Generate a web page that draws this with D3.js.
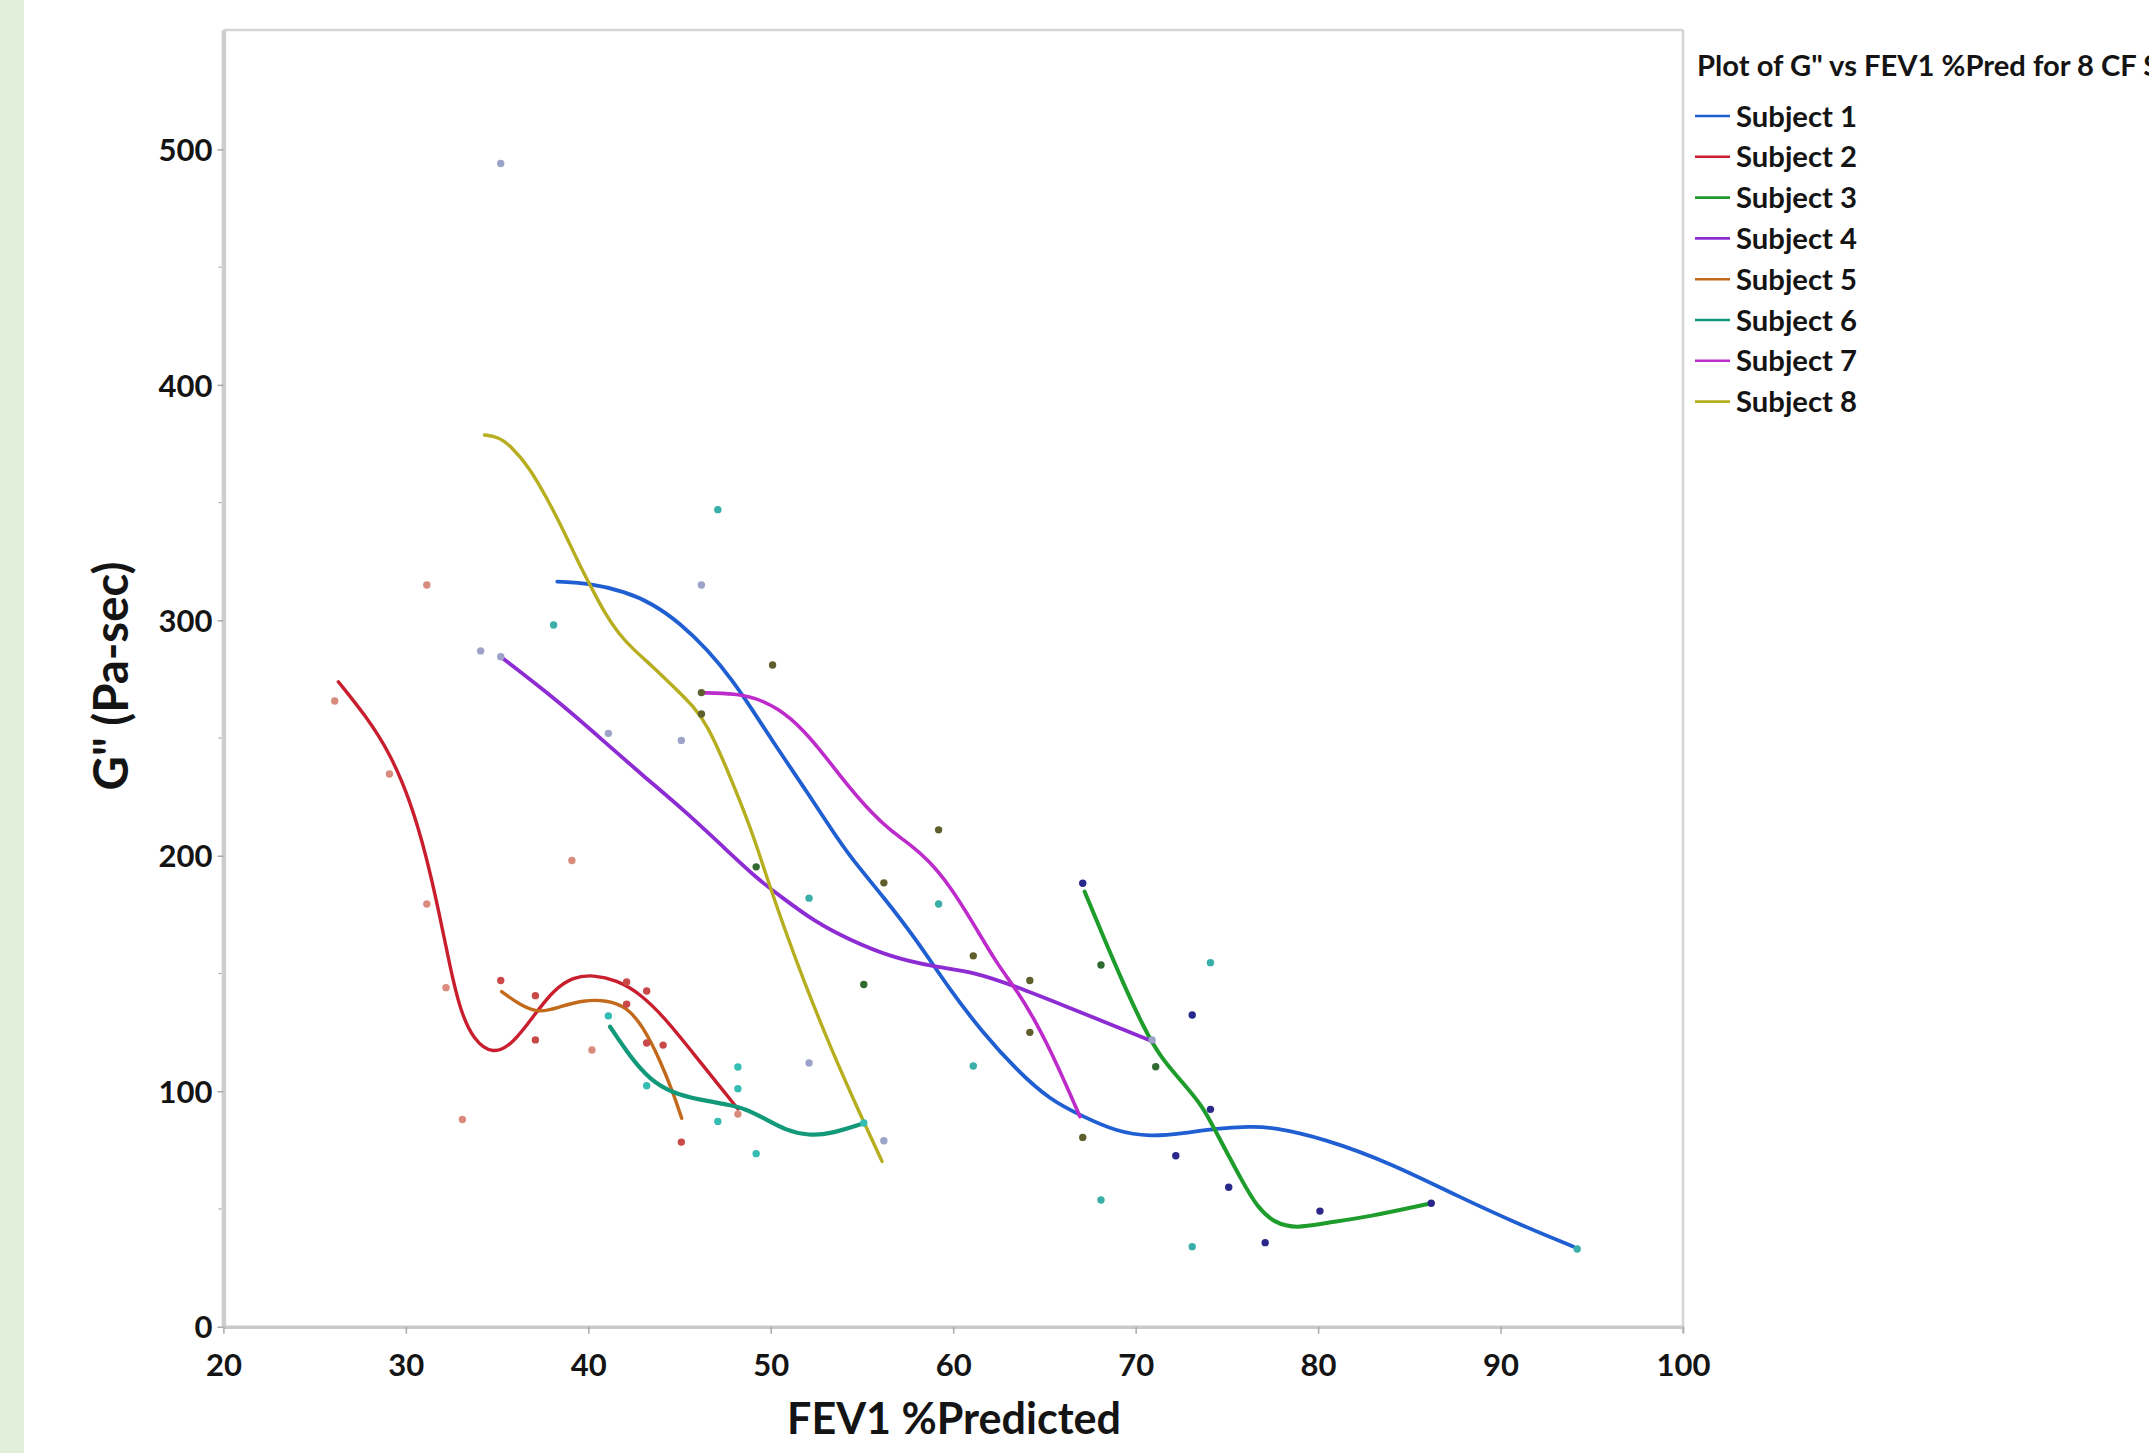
<!DOCTYPE html>
<html><head><meta charset="utf-8">
<script src="https://cdn.jsdelivr.net/npm/d3@7"></script>
<style>html,body{margin:0;padding:0;background:#fff;overflow:hidden}svg{display:block}</style>
</head><body><svg id="c" width="2149" height="1453"></svg>
<script>
// ---------------- DATA ----------------
const subjects = ["Subject 1","Subject 2","Subject 3","Subject 4","Subject 5","Subject 6","Subject 7","Subject 8"];
const xTicks = [20,30,40,50,60,70,80,90,100];
const yTicks = [0,100,200,300,400,500];
const yMinorTicks = [50,150,250,350,450];

// smoothing-spline curves: [FEV1 %Pred, G'']
const s1Curve = [[38.3,316.4],[40.1,315.7],[42.0,312.2],[43.5,307.2],[45.05,298.7],[46.55,287.4],[47.9,274.6],[49.0,261.9],[50.3,246.3],[51.8,229.3],[53.35,210.9],[54.34,199.6],[56.17,182.6],[58.0,164.2],[59.82,143],[61.65,124.6],[63.48,109],[65.3,96.3],[67.13,89.2],[68.96,82.8],[70.79,80.7],[72.6,82.1],[74.44,84.3],[76.27,85],[77.5,84.8],[80.3,80],[84.0,69.4],[87.7,55.2],[91.3,42.5],[94.0,34]];
const s2Curve = [[26.3,273.9],[27.85,259],[29.13,243.5],[30.23,223.7],[31.14,199.6],[31.87,174.1],[32.42,152.9],[32.97,134.5],[33.7,121.8],[34.79,115.4],[35.89,120.4],[36.98,131.7],[38.08,143],[39.18,148.6],[40.27,149.4],[41.55,147.2],[42.83,141.6],[44.3,130.3],[45.75,116.1],[47.22,101.9],[48.2,92.5]];
const s3Curve = [[67.2,184.8],[68.23,165.6],[69.32,145.8],[70.42,127.4],[71.33,114.7],[72.61,103.4],[73.7,93.4],[74.44,82.1],[75.9,60.9],[76.65,51],[77.6,43.9],[78.86,41.8],[80.3,43.9],[82.8,46.7],[86.2,52.4]];
const s4Curve = [[35.2,284.5],[38.3,266],[40.8,249],[43.0,234],[45.3,219],[47.5,203],[49.3,190],[50.5,183],[52.4,172],[54.34,164.2],[56.53,157.1],[58.91,152.9],[61.1,150.8],[63.48,144.4],[66.22,135.9],[68.96,127.4],[70.97,121]];
const s5Curve = [[35.25,142.3],[36.26,136.6],[37.35,133.1],[38.45,135.9],[39.73,138.7],[41.0,138.7],[42.1,135.9],[43.01,127.4],[43.93,113.3],[44.66,99.1],[45.12,88.5]];
const s6Curve = [[41.19,127.4],[42.29,114.7],[43.38,104.8],[44.66,99.1],[46.12,96.3],[47.77,94.2],[48.6,92.5],[49.6,88.7],[50.8,83.4],[52.1,81.1],[53.3,81.9],[55.1,86.4]];
const s7Curve = [[46.18,269.2],[48.07,269],[49.57,266.2],[51.09,259.1],[52.6,246.3],[54.1,230.8],[55.6,217.5],[56.6,210.5],[57.6,205],[58.6,198.5],[59.8,187.5],[61.1,171.3],[62.38,154.3],[63.48,143],[64.58,128.9],[65.67,111.9],[66.95,89.2]];
const s8Curve = [[34.31,378.7],[35.05,378],[35.8,373.7],[36.74,365.2],[37.69,352.5],[38.63,338.4],[39.39,325.6],[40.14,314.3],[40.9,303],[41.65,294.5],[42.4,288.1],[43.54,280.3],[44.67,271.8],[45.8,263.3],[46.55,254.8],[47.31,242.1],[48.07,227.9],[49.01,209.5],[49.95,186.9],[50.9,166],[51.76,147.8],[53.33,117.5],[54.9,90.2],[56.1,70.2]];

// observed points
const s1Points = [[38.1,298],[47.1,347],[52.1,182],[59.2,179.5],[61.1,110.7],[68.1,53.8],[73.1,34],[74.1,154.6],[94.2,33]];
const s2Points = [[26.1,265.7],[29.1,234.7],[31.15,315],[31.15,179.5],[32.2,144],[33.1,88],[39.1,198],[40.2,117.5],[48.2,90.3]];
const s3Points = [[67.1,188.3],[72.2,72.6],[73.1,132.4],[74.1,92.3],[75.1,59.2],[77.1,35.7],[80.1,49.1],[86.2,52.4]];
const s4Points = [[34.1,287],[35.2,494],[35.2,284.5],[41.1,252],[45.1,249],[46.2,315],[52.1,112],[56.2,79],[70.9,121.8]];
const s5Points = [[35.2,147],[37.1,140.6],[37.1,121.8],[42.1,146.4],[42.1,137],[43.2,142.6],[43.2,120.5],[44.1,119.6],[45.1,78.4]];
const s6Points = [[41.1,132],[43.2,102.3],[47.1,87.2],[48.2,110.3],[48.2,101.1],[49.2,73.5],[55.1,86.5]];
const s7Points = [[46.2,269.3],[46.2,260.2],[50.1,281],[56.2,188.5],[59.2,211],[61.1,157.5],[64.2,147],[64.2,125],[67.1,80.4]];
const s8Points = [[49.2,195.3],[55.1,145.3],[68.1,153.6],[71.1,110.4]];

const curves = [s1Curve,s2Curve,s3Curve,s4Curve,s5Curve,s6Curve,s7Curve,s8Curve];
const points = [s1Points,s2Points,s3Points,s4Points,s5Points,s6Points,s7Points,s8Points];

// ---------------- STYLE ----------------
const lineColors = ["#1f5fd2","#c81e2e","#1f9d2c","#8e2cd4","#c2691c","#12997a","#bd2bca","#b6ad1f"];
const lineWidths = [3.8,3.4,4.0,3.8,3.4,4.2,3.6,3.4];
const pointColors = ["#3aaea8","#d98c7e","#29288a","#9ca2c8","#c94848","#35bdb3","#5e5f2c","#2f6a31"];
const FONT = "Lato, 'Open Sans', sans-serif";

const W = 2149, H = 1453;
const svg = d3.select("#c");
svg.append("rect").attr("width",W).attr("height",H).attr("fill","#fff");
svg.append("rect").attr("x",0).attr("y",0).attr("width",24).attr("height",H).attr("fill","#e2efda");

const x = d3.scaleLinear().domain([20,100]).range([223.4,1683]);
const y = d3.scaleLinear().domain([0,550.7]).range([1326.7,30]);

function fitWidth(sel, target){
  const w = sel.node().getComputedTextLength();
  const fs = parseFloat(sel.attr("font-size"));
  sel.attr("font-size", fs*target/w);
}

// frame top/right
svg.append("line").attr("x1",x(20)).attr("x2",x(100)).attr("y1",y(550.7)).attr("y2",y(550.7))
  .attr("stroke","#d4d4d4").attr("stroke-width",2.5);
svg.append("line").attr("x1",x(100)).attr("x2",x(100)).attr("y1",y(550.7)).attr("y2",y(0)+6)
  .attr("stroke","#d4d4d4").attr("stroke-width",2.5);

// y axis
const gy = svg.append("g").attr("transform",`translate(${x(20)},0)`)
  .call(d3.axisLeft(y).tickValues(yTicks).tickSize(6).tickSizeOuter(0).tickPadding(5));
gy.select(".domain").attr("stroke","#cdcdcd").attr("stroke-width",4.5);
gy.selectAll(".tick line").attr("stroke","#aaaaaa").attr("stroke-width",1.5);
gy.selectAll(".tick text").attr("font-family",FONT).attr("font-weight",700).attr("font-size",31).attr("fill","#141414").attr("dy","0.36em");
gy.selectAll(".minor").data(yMinorTicks).join("line").attr("class","minor")
  .attr("x1",-5).attr("x2",-2).attr("y1",d=>y(d)).attr("y2",d=>y(d)).attr("stroke","#aaaaaa").attr("stroke-width",1.2);

// x axis
const gx = svg.append("g").attr("transform",`translate(0,${y(0)})`)
  .call(d3.axisBottom(x).tickValues(xTicks).tickSize(7).tickSizeOuter(0));
gx.select(".domain").attr("stroke","#c9c9c9").attr("stroke-width",3.5);
gx.selectAll(".tick line").attr("stroke","#aaaaaa").attr("stroke-width",1.5);
gx.selectAll(".tick text").attr("font-family",FONT).attr("font-weight",700).attr("font-size",31).attr("fill","#141414")
  .attr("y",38).attr("dy","0.36em");

// axis titles
const xt = svg.append("text").attr("x",954).attr("y",1418).attr("dy","0.36em").attr("text-anchor","middle")
  .attr("font-family",FONT).attr("font-weight",700).attr("font-size",40).attr("fill","#141414").text("FEV1 %Predicted");
fitWidth(xt, 334);
const yt = svg.append("text").attr("transform","translate(111,676) rotate(-90)").attr("dy","0.36em").attr("text-anchor","middle")
  .attr("font-family",FONT).attr("font-weight",700).attr("font-size",38).attr("fill","#141414").text('G" (Pa-sec)');
fitWidth(yt, 229);

// plot clip
svg.append("clipPath").attr("id","plotclip").append("rect")
  .attr("x",x(20)).attr("y",y(550.7)).attr("width",x(100)-x(20)).attr("height",y(0)-y(550.7));
const plot = svg.append("g").attr("clip-path","url(#plotclip)");

const line = d3.line().x(d=>x(d[0])).y(d=>y(d[1])).curve(d3.curveBasis);
plot.selectAll("path.fit").data(curves).join("path").attr("class","fit")
  .attr("d",line).attr("fill","none").attr("stroke",(d,i)=>lineColors[i])
  .attr("stroke-width",(d,i)=>lineWidths[i]).attr("stroke-linecap","round").attr("stroke-linejoin","round");

points.forEach((pts,i)=>{
  plot.selectAll(`circle.p${i}`).data(pts).join("circle").attr("class",`p${i}`)
    .attr("cx",d=>x(d[0])).attr("cy",d=>y(d[1])).attr("r",3.7).attr("fill",pointColors[i]);
});

// legend
const lg = svg.append("g").attr("transform","translate(1697,0)");
const lt = lg.append("text").attr("x",0).attr("y",66).attr("dy","0.36em")
  .attr("font-family",FONT).attr("font-weight",700).attr("font-size",25).attr("fill","#141414");
const tmp = lg.append("text").attr("font-family",FONT).attr("font-weight",700).attr("font-size",25).text('Plot of G" vs FEV1 %Pred for 8 CF ');
const tw = tmp.node().getComputedTextLength(); tmp.remove();
lt.attr("font-size",25*440/tw).text('Plot of G" vs FEV1 %Pred for 8 CF Subjects');

const items = lg.selectAll("g.item").data(subjects).join("g").attr("class","item")
  .attr("transform",(d,i)=>`translate(0,${116+i*40.8})`);
items.append("line").attr("x1",-2).attr("x2",33).attr("y1",0).attr("y2",0)
  .attr("stroke",(d,i)=>lineColors[i]).attr("stroke-width",2.6);
items.append("text").attr("x",39).attr("dy","0.36em").attr("font-family",FONT).attr("font-weight",700)
  .attr("font-size",28).attr("fill","#141414").text(d=>d);
const iw = items.select("text").node().getComputedTextLength();
items.selectAll("text").attr("font-size",28*121/iw);
</script></body></html>
